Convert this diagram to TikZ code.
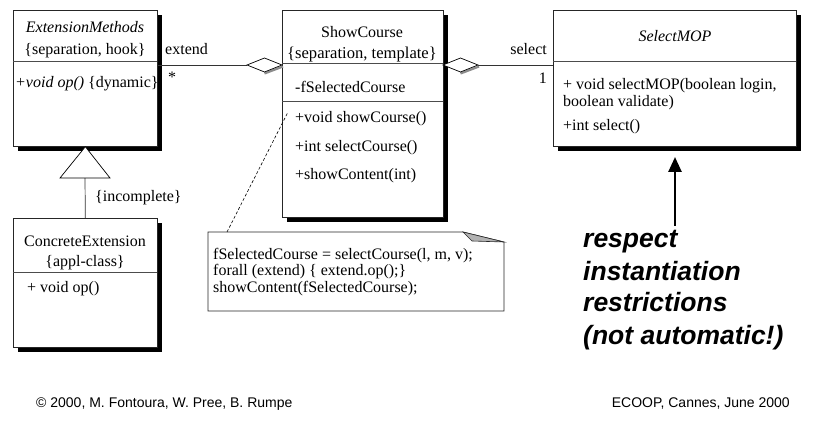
\documentclass[tikz,border=0pt]{standalone}
\usepackage{fontspec}
\setmainfont{Liberation Serif}
\newfontfamily\arialfont{Liberation Sans}
\usetikzlibrary{arrows.meta}
\begin{document}
\begin{tikzpicture}[x=1pt,y=-1pt,
  umlclass/.style={draw=black!85, line width=0.7pt, fill=white, rectangle,
    inner sep=0pt, anchor=north west,
    preaction={fill=black, transform canvas={shift={(4.5pt,-4.5pt)}}}},
  sep/.style={draw=black!70, line width=0.7pt},
  lbl/.style={inner sep=0pt, font=\fontsize{16}{18}\selectfont},
  lblw/.style={lbl, anchor=base west},
  lblc/.style={lbl, anchor=base},
  link/.style={draw=black!80, line width=0.7pt},
  aggr/.style={draw=black, line width=0.7pt, fill=white},
  aggrshade/.style={draw=black!45, line width=2.2pt},
  remark/.style={inner sep=0pt, anchor=base west,
    font=\arialfont\bfseries\itshape\fontsize{26.5}{32}\selectfont},
  foot/.style={inner sep=0pt, font=\arialfont\fontsize{14}{16}\selectfont}]
\useasboundingbox (0,0) rectangle (833,422);

% ---- class boxes ----
\node[umlclass, minimum width=144, minimum height=136] (ext)  at (13,10)  {};
\node[umlclass, minimum width=161, minimum height=207] (show) at (282,10) {};
\node[umlclass, minimum width=243, minimum height=136] (mop)  at (553,10) {};
\node[umlclass, minimum width=144, minimum height=129] (conc) at (13,218) {};

% compartments
\draw[sep] (13,61) -- (157,61);
\draw[sep] (282,63) -- (443,63);
\draw[sep] (282,101) -- (443,101);
\draw[sep] (553,61) -- (796,61);
\draw[sep] (13,272) -- (157,272);

% ExtensionMethods
\node[lblc] (extname) at (85,33) {\itshape ExtensionMethods};
\node[lblc] (exttag)  at (85,55) {\{separation, hook\}};
\node[lblw] (extop)   at (15,88) {\itshape +void op()\upshape\ \{dynamic\}};

% ShowCourse
\node[lblc] (showname) at (362,38) {ShowCourse};
\node[lblc, font=\fontsize{16.6}{18}\selectfont] (showtag) at (362,59) {\{separation, template\}};
\node[lblw] (showatt)  at (295,93)  {-fSelectedCourse};
\node[lblw] (showop1)  at (295,123) {+void showCourse()};
\node[lblw] (showop2)  at (295,152) {+int selectCourse()};
\node[lblw] (showop3)  at (295,180) {+showContent(int)};

% SelectMOP
\node[lblc] (mopname) at (675,42) {\itshape SelectMOP};
\node[lblw] (mopop1)  at (563,90)  {+ void selectMOP(boolean login,};
\node[lblw] (mopop1b) at (563,107) {boolean validate)};
\node[lblw] (mopop2)  at (563,131) {+int select()};

% ConcreteExtension
\node[lblc] (concname) at (85,247) {ConcreteExtension};
\node[lblc] (conctag)  at (85,267) {\{appl-class\}};
\node[lblw] (concop)   at (27,292) {+ void op()};

% ---- aggregation "extend" ----
\coordinate (d1w) at (247,65);
\coordinate (d1e) at (282,65);
\draw[link] (ext.east |- d1w) -- (d1w);
\draw[aggrshade] (264.5,73.5) -- (283,66.5);
\draw[aggr] (d1w) -- ++(17.5,-7) -- (d1e) -- ++(-17.5,7) -- cycle;
\node[lblw] (extendlbl) at (165,55) {extend};
\node[lblw] (extendmul) at (168,83) {*};

% ---- aggregation "select" ----
\coordinate (d2w) at (443,65);
\coordinate (d2e) at (478,65);
\draw[link] (d2e) -- (mop.west |- d2e);
\draw[aggrshade] (460.5,73.5) -- (479,66.5);
\draw[aggr] (d2w) -- ++(17.5,-7) -- (d2e) -- ++(-17.5,7) -- cycle;
\node[lbl, anchor=base east] (selectlbl) at (547,55) {select};
\node[lbl, anchor=base east] (selectmul) at (547,84) {1};

% ---- generalization ----
\coordinate (tribase) at (85,178);
\draw[link] (conc.north) -- (tribase);
\draw[aggr] (ext.south) -- (110,178) -- (60,178) -- cycle;
\node[lblw] (incomplete) at (95,202) {\{incomplete\}};

% ---- note attached to showCourse() ----
\draw[black!85, line width=0.7pt, fill=white] (208,232) -- (463,232) -- (504,242) -- (504,311) -- (208,311) -- cycle;
\draw[black!85, line width=0.6pt, fill=black!30] (463,232) -- (504,242) -- (472,241) -- cycle;
\node[lblw] (note1) at (213,260) {fSelectedCourse = selectCourse(l, m, v);};
\node[lblw] (note2) at (213,276) {forall (extend) \{ extend.op();\}};
\node[lblw] (note3) at (213,292) {showContent(fSelectedCourse);};
\coordinate (notetip) at (227,232);
\coordinate (opanchor) at (288,112);
\draw[black, line width=0.6pt, dash pattern=on 3pt off 2pt] (notetip) -- (opanchor);

% ---- remark ----
\node[remark] (r1) at (583,248) {respect};
\node[remark] (r2) at (583,280) {instantiation};
\node[remark] (r3) at (583,312) {restrictions};
\node[remark] (r4) at (583,344) {(not automatic!)};
\coordinate (arrowfoot) at (675,226);
\draw[line width=2.6pt, -{Triangle[width=13pt,length=15pt]}] (arrowfoot) -- (675,157);

% ---- footer ----
\node[foot, anchor=base west] (copy) at (36,407) {\textcopyright\ 2000, M. Fontoura, W. Pree, B. Rumpe};
\node[foot, anchor=base east] (conf) at (790,407) {ECOOP, Cannes, June 2000};
\end{tikzpicture}
\end{document}
